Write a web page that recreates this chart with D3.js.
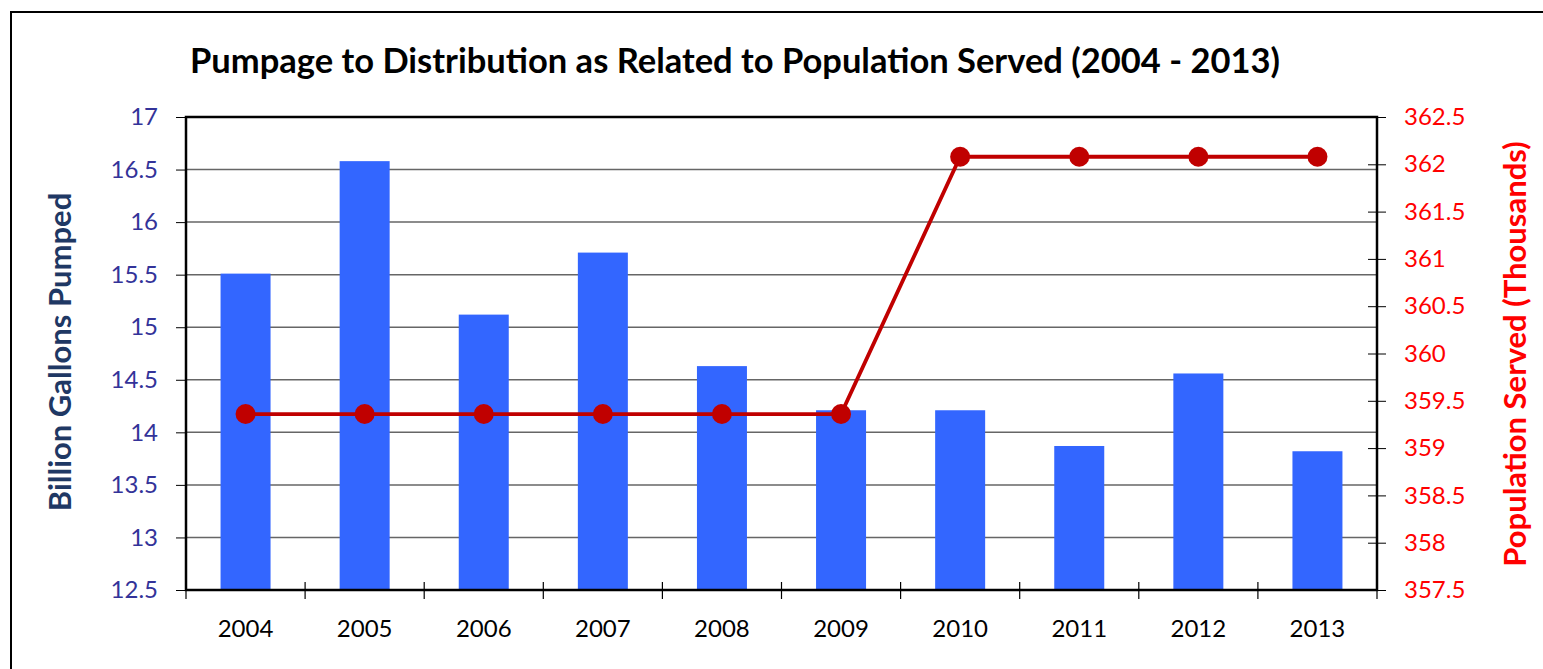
<!DOCTYPE html>
<html lang="en">
<head>
    <meta charset="UTF-8">
    <title>Pumpage to Distribution</title>
    <script src="https://d3js.org/d3.v7.min.js"></script>
    <style>
        body { margin: 0; background: #fff; }
        svg { display: block; font-family: "Lato", "Open Sans", sans-serif; }
    </style>
</head>
<body>
<div id="chart"></div>
<script>
    // data
    const years = ["2004", "2005", "2006", "2007", "2008", "2009", "2010", "2011", "2012", "2013"];
    const pumped = [15.51, 16.58, 15.12, 15.71, 14.63, 14.21, 14.21, 13.87, 14.56, 13.82];
    const population = [359.36, 359.36, 359.36, 359.36, 359.36, 359.36, 362.08, 362.08, 362.08, 362.08];
    const leftTicks = [12.5, 13, 13.5, 14, 14.5, 15, 15.5, 16, 16.5, 17];
    const rightTicks = [357.5, 358, 358.5, 359, 359.5, 360, 360.5, 361, 361.5, 362, 362.5];

    const W = 1543, H = 669;
    const m = { left: 186, right: 1377, top: 117, bottom: 590 };

    const svg = d3.select("#chart").append("svg")
        .attr("width", W).attr("height", H);

    // outer frame
    svg.append("rect")
        .attr("x", 11).attr("y", 12)
        .attr("width", W + 20).attr("height", H + 20)
        .attr("fill", "none").attr("stroke", "#000").attr("stroke-width", 2);

    const x = d3.scaleBand().domain(years).range([m.left, m.right]).paddingInner(0).paddingOuter(0);
    const yL = d3.scaleLinear().domain([12.5, 17]).range([m.bottom, m.top]);
    const yR = d3.scaleLinear().domain([357.5, 362.5]).range([m.bottom, m.top]);

    // gridlines
    svg.append("g")
        .selectAll("line")
        .data(leftTicks.filter(t => t > 12.5 && t < 17))
        .join("line")
        .attr("x1", m.left).attr("x2", m.right)
        .attr("y1", d => yL(d)).attr("y2", d => yL(d))
        .attr("stroke", "#666").attr("stroke-width", 1.5);

    // bars
    const barW = 50;
    svg.append("g")
        .selectAll("rect")
        .data(pumped)
        .join("rect")
        .attr("x", (d, i) => x(years[i]) + x.bandwidth() / 2 - barW / 2)
        .attr("width", barW)
        .attr("y", d => yL(d))
        .attr("height", d => yL(12.5) - yL(d))
        .attr("fill", "#3366ff");

    // plot frame
    svg.append("rect")
        .attr("x", m.left).attr("y", m.top)
        .attr("width", m.right - m.left).attr("height", m.bottom - m.top)
        .attr("fill", "none").attr("stroke", "#000").attr("stroke-width", 2.5);

    // left axis
    const axL = svg.append("g").attr("transform", `translate(${m.left},0)`)
        .call(d3.axisLeft(yL).tickValues(leftTicks).tickSize(10).tickPadding(18).tickFormat(d3.format("")));
    axL.attr("font-family", null).attr("font-size", null);
    axL.select(".domain").remove();
    axL.selectAll("line").attr("stroke", "#000");
    axL.selectAll("text").attr("fill", "#333399").attr("font-size", 24);

    // right axis
    const axR = svg.append("g").attr("transform", `translate(${m.right},0)`)
        .call(d3.axisRight(yR).tickValues(rightTicks).tickSize(9).tickPadding(18).tickFormat(d3.format("")));
    axR.attr("font-family", null).attr("font-size", null);
    axR.select(".domain").remove();
    axR.selectAll("line").attr("x1", -9).attr("stroke", "#000");
    axR.selectAll("text").attr("fill", "#ff0000").attr("font-size", 24);

    // bottom axis: ticks on category boundaries
    const bounds = years.map(y => x(y)).concat([m.right]);
    svg.append("g").selectAll("line")
        .data(bounds)
        .join("line")
        .attr("x1", d => d).attr("x2", d => d)
        .attr("y1", m.bottom - 8).attr("y2", m.bottom + 9)
        .attr("stroke", "#000").attr("stroke-width", 1.2);
    svg.append("g").selectAll("text")
        .data(years)
        .join("text")
        .attr("x", d => x(d) + x.bandwidth() / 2)
        .attr("y", 637)
        .attr("text-anchor", "middle")
        .attr("font-size", 24)
        .attr("fill", "#000")
        .text(d => d);

    // population line
    const line = d3.line()
        .x((d, i) => x(years[i]) + x.bandwidth() / 2)
        .y(d => yR(d));
    svg.append("path")
        .datum(population)
        .attr("d", line)
        .attr("fill", "none")
        .attr("stroke", "#c00000")
        .attr("stroke-width", 3.8);
    svg.append("g").selectAll("circle")
        .data(population)
        .join("circle")
        .attr("cx", (d, i) => x(years[i]) + x.bandwidth() / 2)
        .attr("cy", d => yR(d))
        .attr("r", 10)
        .attr("fill", "#c00000");

    // title
    svg.append("text")
        .attr("x", 735).attr("y", 73)
        .attr("text-anchor", "middle")
        .attr("font-size", 34.5).attr("font-weight", "bold")
        .attr("fill", "#000")
        .text("Pumpage to Distribution as Related to Population Served (2004 - 2013)");

    // axis titles
    svg.append("text")
        .attr("transform", "translate(71,352) rotate(-90)")
        .attr("text-anchor", "middle")
        .attr("font-size", 31).attr("font-weight", "bold")
        .attr("fill", "#1f3864")
        .text("Billion Gallons Pumped");
    svg.append("text")
        .attr("transform", "translate(1526,354) rotate(-90)")
        .attr("text-anchor", "middle")
        .attr("font-size", 31).attr("font-weight", "bold")
        .attr("fill", "#ff0000")
        .text("Population Served (Thousands)");
</script>
</body>
</html>
